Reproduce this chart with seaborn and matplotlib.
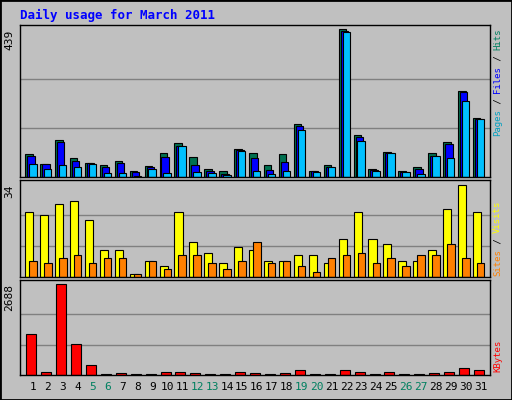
import numpy as np
import matplotlib
matplotlib.use("Agg")
import matplotlib.pyplot as plt
import seaborn as sns

# Daily usage, March 2011
days = list(range(1, 32))
hits = [67, 40, 109, 55, 43, 37, 49, 19, 34, 70, 100, 58, 25, 19, 82, 70,
        37, 67, 157, 19, 37, 439, 124, 25, 73, 19, 31, 70, 103, 256, 175]
files = [61, 38, 103, 49, 41, 31, 43, 16, 31, 58, 91, 37, 19, 10, 79, 55,
         22, 46, 151, 19, 31, 433, 118, 22, 70, 16, 25, 61, 97, 253, 172]
pages = [40, 25, 37, 31, 40, 13, 13, 3, 25, 13, 91, 16, 13, 7, 76, 19,
         10, 19, 139, 16, 31, 430, 106, 19, 70, 16, 10, 61, 55, 226, 172]
visits = [24, 23, 27, 28, 21, 10, 10, 1, 6, 4, 24, 13, 9, 5, 11, 10,
          6, 6, 8, 8, 5, 14, 24, 14, 12, 6, 6, 10, 25, 34, 24]
sites = [6, 5, 7, 8, 5, 7, 7, 1, 6, 3, 8, 8, 5, 3, 6, 13,
         5, 6, 4, 2, 7, 8, 9, 5, 7, 4, 8, 8, 12, 7, 5]
kbytes = [1212, 98, 2688, 919, 303, 15, 68, 15, 15, 98, 98, 68, 15, 15, 98, 68,
          15, 68, 156, 15, 15, 156, 98, 15, 98, 15, 15, 68, 98, 215, 156]
weekends = [5, 6, 12, 13, 19, 20, 26, 27]

BG = "#C0C0C0"
sns.set_theme(style="white")
plt.rcParams["font.family"] = ["DejaVu Sans Mono", "DejaVu Sans"]

fig = plt.figure(figsize=(5.12, 4.0), dpi=100, facecolor=BG)
fig.patches.append(plt.Rectangle((0, 0), 1, 1, transform=fig.transFigure,
                                 fill=False, edgecolor="black", lw=2))

x = np.array(days, dtype=float)
xlim = (0.13, 31.62)


def make_ax(bottom, height, ymax, peak):
    ax = fig.add_axes([0.039, bottom, 0.918, height], facecolor=BG)
    ax.set_xlim(*xlim)
    ax.set_ylim(0, ymax)
    for g in (peak / 3, peak * 2 / 3):
        ax.axhline(g, color="#808080", lw=1, zorder=0)
    ax.set_xticks([])
    ax.set_yticks([])
    for s in ax.spines.values():
        s.set_color("black")
        s.set_linewidth(1)
    ax.text(-0.012, peak / ymax, str(peak), transform=ax.transAxes,
            rotation=90, ha="right", va="top", fontsize=8, color="black")
    return ax


kw = dict(align="edge", edgecolor="black", linewidth=0.8)

ax1 = make_ax(0.5575, 0.38, 451.8, 439)
ax1.bar(x - 0.52, hits, width=0.5, color="#007050", **kw)
ax1.bar(x - 0.39, files, width=0.5, color="#0000FF", **kw)
ax1.bar(x - 0.26, pages, width=0.5, color="#00C0FF", **kw)

ax2 = make_ax(0.3075, 0.2425, 35.7, 34)
ax2.bar(x - 0.52, visits, width=0.54, color="#FFFF00", **kw)
ax2.bar(x - 0.25, sites, width=0.5, color="#FF8000", **kw)

ax3 = make_ax(0.0625, 0.2375, 2805, 2688)
ax3.bar(x - 0.45, kbytes, width=0.67, color="#FF0000", **kw)

for d in days:
    ax3.text(d, -0.07, str(d), transform=ax3.get_xaxis_transform(),
             ha="center", va="top", fontsize=8,
             color="#008060" if d in weekends else "black")

fig.text(0.039, 0.962, "Daily usage for March 2011", color="#0000FF",
         fontsize=9, fontweight="bold", ha="left", va="center")


def side_label(parts, y0, step=0.0135):
    # stacked vertical label on the right, reading bottom to top
    y = y0
    for txt, col in parts:
        fig.text(0.972, y, txt, color=col, rotation=90, ha="center",
                 va="bottom", fontsize=6.5)
        y += len(txt) * step


side_label([("Pages", "#00A0C0"), (" / ", "black"), ("Files", "#0000FF"),
            (" / ", "black"), ("Hits", "#008060")], 0.66)
side_label([("Sites", "#FF8000"), (" / ", "black"), ("Visits", "#FFFF00")], 0.31)
side_label([("KBytes", "#FF0000")], 0.07)

fig.savefig("out.png", dpi=100, facecolor=BG)
